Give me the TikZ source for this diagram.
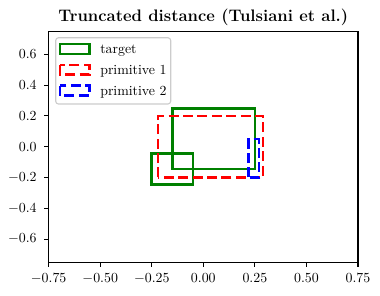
\documentclass[tikz,border=0pt]{standalone}
\usepackage{tikz}
\definecolor{mgreen}{HTML}{008000}
\definecolor{mred}{HTML}{FF0000}
\definecolor{mblue}{HTML}{0000FF}
\definecolor{legedge}{HTML}{CCCCCC}
\tikzset{
  box/.style={line width=1.9pt},
  dashbox/.style={line width=1.9pt, dash pattern=on 7.2pt off 3.2pt},
  ticklab/.style={font=\fontsize{10}{12}\selectfont, inner sep=0pt},
  legtext/.style={font=\fontsize{10}{12}\selectfont, inner sep=0pt, anchor=base west},
}
\begin{document}
\begin{tikzpicture}[x=0.72pt,y=-0.72pt]
\useasboundingbox (0,0) rectangle (380,295);
\node[font=\fontsize{12}{14}\selectfont\bfseries] (title) at (203.3,17) {Truncated distance (Tulsiani et al.)};
\begin{scope}[xshift=146.38pt, yshift=-105.62pt, x=148.46pt, y=110.88pt]
  % shapes
  \draw[box, mgreen] (-0.15,-0.145) rectangle (0.25,0.25);
  \draw[box, mgreen] (-0.25,-0.245) rectangle (-0.05,-0.045);
  \draw[dashbox, mred] (-0.22,-0.2) rectangle (0.29,0.2);
  \draw[dashbox, mblue] (0.22,-0.2) rectangle (0.27,0.05);
  % axes
  \draw[line width=0.8pt] (-0.75,-0.75) rectangle (0.75,0.75);
  \foreach \v/\l in {-0.75/{$-0.75$},-0.5/{$-0.50$},-0.25/{$-0.25$},0/{$0.00$},0.25/{$0.25$},0.5/{$0.50$},0.75/{$0.75$}}{
    \draw[line width=0.8pt] (\v,-0.75) -- ++(0,-3.5pt);
    \node[ticklab, anchor=north] (xl\v) at ([yshift=-8.2pt]\v,-0.75) {\l};
  }
  \foreach \v/\l in {-0.6/{$-0.6$},-0.4/{$-0.4$},-0.2/{$-0.2$},0/{$0.0$},0.2/{$0.2$},0.4/{$0.4$},0.6/{$0.6$}}{
    \draw[line width=0.8pt] (-0.75,\v) -- ++(-3.5pt,0);
    \node[ticklab, anchor=east] (yl\v) at ([xshift=-8.5pt]-0.75,\v) {\l};
  }
\end{scope}
% legend
\draw[legedge, fill=white, line width=0.8pt, rounded corners=2pt] (55.7,37.7) rectangle (170.7,104);
\draw[box, mgreen] (60,44) rectangle (89.3,54);
\draw[dashbox, mred] (60,65) rectangle (89.3,74.3);
\draw[dashbox, mblue] (60,85.7) rectangle (89.3,95.7);
\node[legtext] (l1) at (100,53) {target};
\node[legtext] (l2) at (100,74) {primitive 1};
\node[legtext] (l3) at (100,95) {primitive 2};
\end{tikzpicture}
\end{document}
